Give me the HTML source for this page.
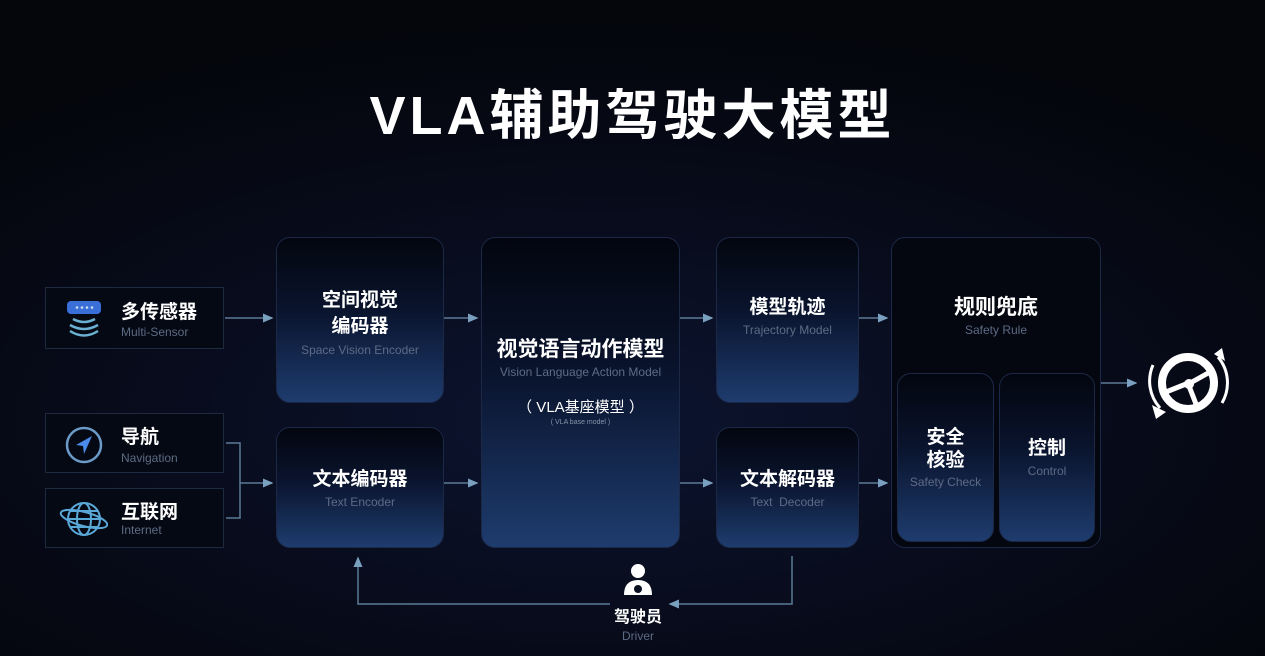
<!DOCTYPE html>
<html><head><meta charset="utf-8">
<style>
*{margin:0;padding:0;box-sizing:border-box}
body{width:1265px;height:656px;overflow:hidden;background:radial-gradient(ellipse 900px 400px at 600px 420px,#0c1430 0%,#070a18 60%,#04060c 100%);font-family:"Liberation Sans","Noto Sans CJK SC",sans-serif;color:#fff;position:relative}
.a{position:absolute}
.title{left:0;width:1265px;top:71px;text-align:center;font-size:54px;font-weight:bold;letter-spacing:4px}
.box{position:absolute;border-radius:14px;background:linear-gradient(180deg,#03060f 0%,#0a142e 45%,#1e3c6e 100%);border:1px solid #1b2846;text-align:center}
.in{position:absolute;border:1px solid #1e2a40;background:#050913}
.cn{font-size:19px;font-weight:bold;line-height:25px}
.en{font-size:12px;color:#5d6b85;margin-top:3px}
.lbl{position:absolute;left:0;width:100%}
</style></head><body>
<div class="a title">VLA辅助驾驶大模型</div>

<svg class="a" style="left:0;top:0" width="1265" height="656">
<defs><marker id="m" markerWidth="8" markerHeight="8" refX="6" refY="4" orient="auto"><path d="M0,1 L7,4 L0,7z" fill="#7aa0c0"/></marker></defs>
<g stroke="#5c7a96" stroke-width="1.5" fill="none" marker-end="url(#m)">
<line x1="225" y1="318" x2="272" y2="318"/>
<line x1="444" y1="318" x2="477" y2="318"/>
<line x1="680" y1="318" x2="712" y2="318"/>
<line x1="859" y1="318" x2="887" y2="318"/>
<line x1="240" y1="483" x2="272" y2="483"/>
<line x1="444" y1="483" x2="477" y2="483"/>
<line x1="680" y1="483" x2="712" y2="483"/>
<line x1="859" y1="483" x2="887" y2="483"/>
<line x1="1101" y1="383" x2="1136" y2="383"/>
<polyline points="610,604 358,604 358,558"/>
<polyline points="792,556 792,604 670,604"/>
</g>
<polyline points="226,443 240,443 240,518 226,518" stroke="#5c7a96" stroke-width="1.5" fill="none"/>
<g stroke="#fff" fill="none">
<circle cx="1188" cy="383" r="26" stroke-width="8"/>
<circle cx="1189" cy="384" r="5" fill="#fff" stroke="none"/>
<path d="M1166,392 L1186,384 M1192,382 L1210,372 M1189,386 L1196,404" stroke-width="5"/>
<path d="M1153,365 A40,40 0 0 0 1160,408" stroke-width="3"/>
<path d="M1222,403 A40,40 0 0 0 1218,357" stroke-width="3"/>
</g>
<path d="M1152,405 L1166,412 L1156,419z M1214,354 L1222,348 L1225,361z" fill="#fff"/>
</svg>

<div class="in" style="left:45px;top:287px;width:179px;height:62px">
 <svg class="a" style="left:18px;top:12px" width="40" height="40"><rect x="3" y="1" width="34" height="13" rx="4" fill="#3a6fd8"/><g fill="#cde"><circle cx="13" cy="7.5" r="1.3"/><circle cx="18" cy="7.5" r="1.3"/><circle cx="23" cy="7.5" r="1.3"/><circle cx="28" cy="7.5" r="1.3"/></g><g stroke="#6ab0d0" stroke-width="2.5" fill="none"><path d="M9,19 Q20,25 31,19"/><path d="M6,25 Q20,33 34,25"/><path d="M6,31 Q20,40 34,31"/></g></svg>
 <div class="a cn" style="left:75px;top:12px">多传感器</div>
 <div class="a en" style="left:75px;top:37px;margin:0">Multi-Sensor</div>
</div>
<div class="in" style="left:45px;top:413px;width:179px;height:60px">
 <svg class="a" style="left:18px;top:11px" width="40" height="40"><circle cx="20" cy="20" r="17" stroke="#6a9ac8" stroke-width="2.5" fill="none"/><path d="M28,11 L12,20 L19,21 L20,29z" fill="#4a8ae8"/></svg>
 <div class="a cn" style="left:75px;top:11px">导航</div>
 <div class="a en" style="left:75px;top:37px;margin:0">Navigation</div>
</div>
<div class="in" style="left:45px;top:488px;width:179px;height:60px">
 <svg class="a" style="left:12px;top:10px" width="50" height="40"><g stroke="#5aa8d8" stroke-width="2" fill="none"><circle cx="26" cy="20" r="16"/><ellipse cx="26" cy="20" rx="7" ry="16"/><line x1="10" y1="20" x2="42" y2="20"/><line x1="13" y1="12" x2="39" y2="12"/><line x1="13" y1="28" x2="39" y2="28"/><ellipse cx="26" cy="20" rx="24" ry="7" transform="rotate(15 26 20)"/></g></svg>
 <div class="a cn" style="left:75px;top:11px">互联网</div>
 <div class="a en" style="left:75px;top:34px;margin:0">Internet</div>
</div>

<div class="box" style="left:276px;top:237px;width:168px;height:166px"><div class="lbl" style="top:50px"><div class="cn" style="line-height:26px">空间视觉<br>编码器</div><div class="en">Space Vision Encoder</div></div></div>
<div class="box" style="left:276px;top:427px;width:168px;height:121px"><div class="lbl" style="top:39px"><div class="cn">文本编码器</div><div class="en">Text Encoder</div></div></div>

<div class="box" style="left:481px;top:237px;width:199px;height:311px"><div class="lbl" style="top:99px"><div class="cn" style="font-size:21px">视觉语言动作模型</div><div class="en" style="font-size:12px">Vision Language Action Model</div><div style="font-size:15px;margin-top:17px">（ VLA基座模型 ）</div><div style="font-size:7px;color:#8894aa;margin-top:2px">( VLA base model )</div></div></div>

<div class="box" style="left:716px;top:237px;width:143px;height:166px"><div class="lbl" style="top:57px"><div class="cn">模型轨迹</div><div class="en">Trajectory Model</div></div></div>
<div class="box" style="left:716px;top:427px;width:143px;height:121px"><div class="lbl" style="top:39px"><div class="cn">文本解码器</div><div class="en">Text&nbsp; Decoder</div></div></div>

<div class="box" style="left:891px;top:237px;width:210px;height:311px;background:#04070f"><div class="lbl" style="top:57px"><div class="cn" style="font-size:21px">规则兜底</div><div class="en">Safety Rule</div></div></div>
<div class="box" style="left:897px;top:373px;width:97px;height:169px"><div class="lbl" style="top:52px"><div class="cn" style="line-height:23px">安全<br>核验</div><div class="en" style="font-size:12px">Safety Check</div></div></div>
<div class="box" style="left:999px;top:373px;width:96px;height:169px"><div class="lbl" style="top:62px"><div class="cn">控制</div><div class="en">Control</div></div></div>

<svg class="a" style="left:622px;top:563px" width="32" height="34"><circle cx="16" cy="8" r="7" fill="#fff"/><path d="M2,32 Q2,17 16,17 Q30,17 30,32z" fill="#fff"/><circle cx="16" cy="26" r="4" fill="#0a1024"/></svg>
<div class="a" style="left:588px;top:603px;width:100px;text-align:center;font-size:16px;font-weight:bold">驾驶员</div>
<div class="a" style="left:588px;top:629px;width:100px;text-align:center;font-size:12px;color:#5d6b85">Driver</div>
</body></html>
